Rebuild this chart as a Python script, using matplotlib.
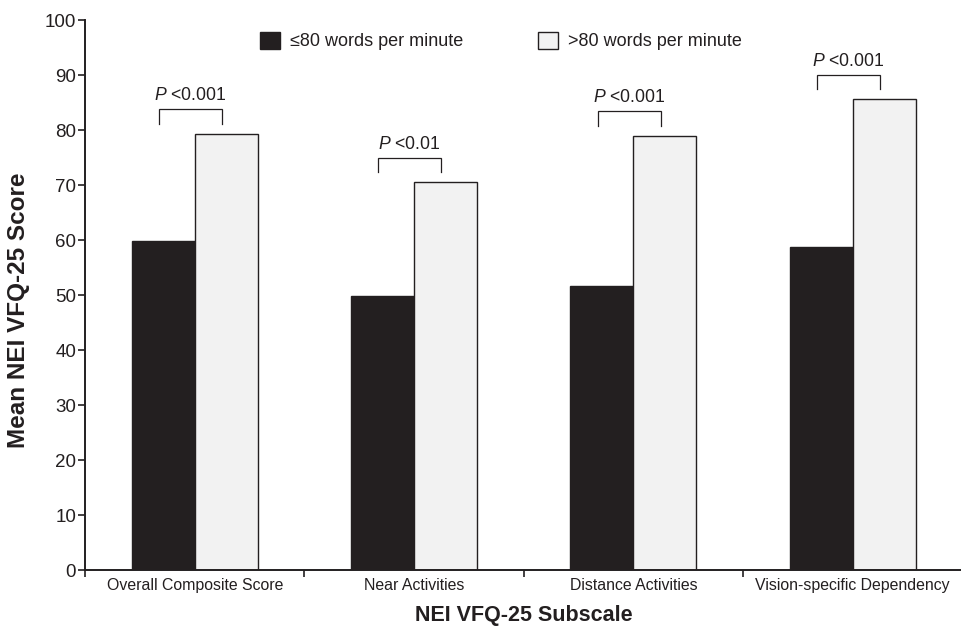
import matplotlib
matplotlib.use("Agg")
import matplotlib.pyplot as plt
import numpy as np

plt.rcParams["font.family"] = ["Liberation Sans", "DejaVu Sans"]
plt.rcParams["mathtext.fontset"] = "custom"
plt.rcParams["mathtext.rm"] = "Liberation Sans"
plt.rcParams["mathtext.it"] = "Liberation Sans:italic"

categories = ["Overall Composite Score", "Near Activities",
              "Distance Activities", "Vision-specific Dependency"]
slow_readers = [59.8, 49.8, 51.6, 58.8]     # <=80 words per minute
fast_readers = [79.3, 70.5, 78.9, 85.6]     # >80 words per minute
p_labels = ["<0.001", "<0.01", "<0.001", "<0.001"]
series_names = ["\u226480 words per minute", ">80 words per minute"]
y_ticks = [0, 10, 20, 30, 40, 50, 60, 70, 80, 90, 100]

ink = "#231f20"
dark = "#231f20"
light = "#f2f2f2"

fig = plt.figure(figsize=(9.61, 6.27), dpi=100)
ax = fig.add_axes([0.0885, 0.0909, 0.913, 0.877])

x = np.arange(len(categories))
w = 0.287
b1 = ax.bar(x - w / 2, slow_readers, w, color=dark, edgecolor=ink, linewidth=1.0,
            label=series_names[0])
b2 = ax.bar(x + w / 2, fast_readers, w, color=light, edgecolor=ink, linewidth=1.0,
            label=series_names[1])

# significance brackets above each pair
for i, (a, b, p) in enumerate(zip(slow_readers, fast_readers, p_labels)):
    base = max(a, b) + 1.8
    top = base + 2.7
    xl = i - w / 2 - 0.02
    xr = i + w / 2 - 0.02
    ax.plot([xl, xl, xr, xr], [base, top, top, base], color=ink, lw=0.9,
            solid_joinstyle="miter", clip_on=False)
    ax.text((xl + xr) / 2, top + 0.9, r"$\mathit{P}$ " + p, ha="center", va="bottom",
            fontsize=12.7, color=ink)

ax.set_xlim(-0.5, len(categories) - 0.5)
ax.set_ylim(0, 100)
ax.set_yticks(y_ticks)
ax.set_xticks(x)
ax.set_xticklabels(categories, fontsize=11.4, color=ink)
ax.set_xticks(np.arange(len(categories)) - 0.5, minor=True)
ax.tick_params(axis="x", which="major", length=0, pad=6)
ax.tick_params(axis="x", which="minor", length=5, width=1.2, color=ink, direction="out")
ax.tick_params(axis="y", length=5, width=1.2, color=ink, labelsize=13.5, labelcolor=ink, pad=1.5)

for s in ["top", "right"]:
    ax.spines[s].set_visible(False)
for s in ["left", "bottom"]:
    ax.spines[s].set_color(ink)
    ax.spines[s].set_linewidth(1.4)

fig.text(19 / 961, 1 - 310 / 627, "Mean NEI VFQ-25 Score", rotation=90,
         ha="center", va="center", fontsize=17.5, fontweight="bold", color=ink)
fig.text(524 / 961, 5.5 / 627, "NEI VFQ-25 Subscale", ha="center", va="baseline",
         fontsize=15.5, fontweight="bold", color=ink)

leg = ax.legend(handles=[b1, b2], ncol=2, frameon=False, fontsize=13,
                loc="center left", bbox_to_anchor=(260 / 961, 1 - 41 / 627),
                bbox_transform=fig.transFigure, borderpad=0,
                handlelength=1.1, handleheight=1.1, handletextpad=0.55,
                columnspacing=4.15, borderaxespad=0)
for t in leg.get_texts():
    t.set_color(ink)

fig.savefig("out.png", dpi=100)
